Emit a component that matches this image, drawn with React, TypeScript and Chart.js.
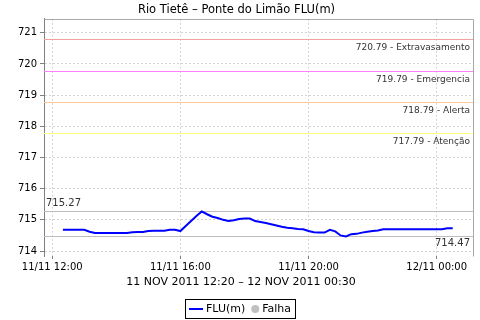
import React, { useEffect, useRef } from 'react';
import { Chart, registerables } from 'chart.js';

Chart.register(...registerables);

// Series: FLU(m) readings every 10 minutes starting 11/11 12:20 (minutes from 11/11 00:00)
const startMinute = 12 * 60 + 20;
const stepMinutes = 10;
const levels = [
  714.68, 714.68, 714.68, 714.68, 714.68, 714.62, 714.58, 714.58, 714.58, 714.58,
  714.58, 714.58, 714.58, 714.60, 714.61, 714.61, 714.64, 714.65, 714.65, 714.65,
  714.68, 714.68, 714.64, 714.80, 714.96, 715.12, 715.27, 715.18, 715.10, 715.06,
  715.00, 714.96, 714.99, 715.03, 715.04, 715.04, 714.96, 714.93, 714.90, 714.86,
  714.82, 714.78, 714.75, 714.73, 714.71, 714.70, 714.64, 714.60, 714.59, 714.59,
  714.68, 714.63, 714.50, 714.47, 714.54, 714.55, 714.59, 714.62, 714.64, 714.66,
  714.70, 714.70, 714.70, 714.70, 714.70, 714.70, 714.70, 714.70, 714.70, 714.70,
  714.70, 714.70, 714.73, 714.73,
];

const xTickMinutes = [720, 960, 1200, 1440];
const xTickLabels = ['11/11 12:00', '11/11 16:00', '11/11 20:00', '12/11 00:00'];
const yTickValues = [714, 715, 716, 717, 718, 719, 720, 721];

const thresholdValues = [720.79, 719.79, 718.79, 717.79];
const thresholdNames = ['Extravasamento', 'Emergencia', 'Alerta', 'Atenção'];
const thresholdColors = ['#f4a0a0', '#ff80ff', '#ffc896', '#ffff80'];

const maxLevel = 715.27;
const minLevel = 714.47;

const titleText = 'Rio Tietê – Ponte do Limão FLU(m)';
const xTitleText = '11 NOV 2011 12:20 – 12 NOV 2011 00:30';
const seriesName = 'FLU(m)';
const failName = 'Falha';

const FONT = '"DejaVu Sans", sans-serif';

const overlay = {
  id: 'overlay',
  beforeDatasetsDraw(chart: any) {
    const { ctx, chartArea: a, scales } = chart;
    const y = scales.y;
    ctx.save();
    ctx.lineWidth = 1;
    ctx.font = `9px ${FONT}`;
    ctx.textBaseline = 'middle';
    thresholdValues.forEach((v, i) => {
      const py = Math.round(y.getPixelForValue(v)) + 0.5;
      ctx.strokeStyle = thresholdColors[i];
      ctx.beginPath();
      ctx.moveTo(a.left, py);
      ctx.lineTo(a.right, py);
      ctx.stroke();
      ctx.fillStyle = '#333';
      ctx.textAlign = 'right';
      ctx.fillText(`${v.toFixed(2)} - ${thresholdNames[i]}`, a.right - 3, py + 8);
    });
    // max / min reference lines
    ctx.strokeStyle = '#bdbdbd';
    ctx.font = `10px ${FONT}`;
    const pMax = Math.round(y.getPixelForValue(maxLevel)) + 0.5;
    const pMin = Math.round(y.getPixelForValue(minLevel)) + 0.5;
    [pMax, pMin].forEach((py) => {
      ctx.beginPath();
      ctx.moveTo(a.left, py);
      ctx.lineTo(a.right, py);
      ctx.stroke();
    });
    ctx.fillStyle = '#333';
    ctx.textAlign = 'left';
    ctx.fillText(maxLevel.toFixed(2), a.left + 2, pMax - 8);
    ctx.textAlign = 'right';
    ctx.fillText(minLevel.toFixed(2), a.right - 3, pMin + 7);
    ctx.restore();
  },
  afterDraw(chart: any) {
    const { ctx, chartArea: a } = chart;
    ctx.save();
    ctx.lineWidth = 1;
    ctx.strokeStyle = '#a8a8a8';
    ctx.beginPath();
    ctx.moveTo(Math.round(a.left) + 0.5, Math.round(a.top) + 0.5);
    ctx.lineTo(Math.round(a.right) + 0.5, Math.round(a.top) + 0.5);
    ctx.lineTo(Math.round(a.right) + 0.5, Math.round(a.bottom) + 0.5);
    ctx.stroke();

    // domain axis label, centred on the canvas
    ctx.font = `11px ${FONT}`;
    ctx.fillStyle = '#000';
    ctx.textAlign = 'center';
    ctx.textBaseline = 'middle';
    ctx.fillText(xTitleText, chart.width / 2 + 1, 282);

    // legend: blue line for the series, grey dot for failures, inside a black frame
    ctx.textBaseline = 'middle';
    ctx.textAlign = 'left';
    const lineW = 14;
    const gap = 3;
    const dotR = 4;
    const w1 = ctx.measureText(seriesName).width;
    const w2 = ctx.measureText(failName).width;
    const inner = lineW + gap + w1 + 6 + dotR * 2 + gap + w2;
    const padX = 4;
    const boxW = inner + padX * 2;
    const boxL = Math.round(chart.width / 2 - boxW / 2);
    const boxT = 299;
    const boxH = 19;
    const cy = boxT + boxH / 2;
    ctx.strokeStyle = '#000';
    ctx.strokeRect(boxL + 0.5, boxT + 0.5, Math.round(boxW), boxH);
    let x = boxL + padX;
    ctx.strokeStyle = '#0000ff';
    ctx.lineWidth = 2;
    ctx.beginPath();
    ctx.moveTo(x, Math.round(cy));
    ctx.lineTo(x + lineW, Math.round(cy));
    ctx.stroke();
    x += lineW + gap;
    ctx.fillStyle = '#000';
    ctx.fillText(seriesName, x, cy + 0.5);
    x += w1 + 6;
    ctx.fillStyle = '#c0c0c0';
    ctx.beginPath();
    ctx.arc(x + dotR, cy + 0.5, dotR, 0, Math.PI * 2);
    ctx.fill();
    x += dotR * 2 + gap;
    ctx.fillStyle = '#000';
    ctx.fillText(failName, x, cy + 0.5);
    ctx.restore();
  },
};

export default function App() {
  const ref = useRef<HTMLCanvasElement | null>(null);

  useEffect(() => {
    document.body.style.margin = '0';
    const canvas = ref.current;
    if (!canvas) return;
    const points = levels.map((v, i) => ({ x: startMinute + i * stepMinutes, y: v }));
    const chart = new Chart(canvas, {
      type: 'line',
      data: {
        datasets: [
          {
            label: seriesName,
            data: points,
            borderColor: '#0000ff',
            backgroundColor: '#0000ff',
            borderWidth: 2,
            pointRadius: 0,
            tension: 0,
            fill: false,
          },
          {
            label: failName,
            data: [],
            borderColor: '#c0c0c0',
            backgroundColor: '#c0c0c0',
            pointStyle: 'circle',
            pointRadius: 4,
            showLine: false,
          },
        ],
      },
      options: {
        animation: false,
        responsive: false,
        devicePixelRatio: 1,
        layout: { padding: { left: 0, right: 7, top: 0, bottom: 0 } },
        plugins: {
          title: {
            display: true,
            text: titleText,
            color: '#000',
            font: { family: FONT, size: 11.5, weight: 'normal' },
            padding: { top: 3, bottom: 2 },
          },
          legend: { display: false },
          tooltip: { enabled: false },
        },
        scales: {
          x: {
            type: 'linear',
            min: 704.6,
            max: 1508,
            afterBuildTicks: (s: any) => {
              s.ticks = xTickMinutes.map((v) => ({ value: v }));
            },
            afterFit: (s: any) => {
              s.height = 64;
            },
            ticks: {
              autoSkip: false,
              maxRotation: 0,
              color: '#000',
              font: { family: FONT, size: 10 },
              padding: 2,
              callback: (v: any) => {
                const i = xTickMinutes.indexOf(Number(v));
                return i >= 0 ? xTickLabels[i] : '';
              },
            },
            grid: {
              color: '#d4d4d4',
              tickColor: '#808080',
              tickLength: 3,
              tickBorderDash: [],
            },
            border: { display: false, dash: [2, 2] },
          },
          y: {
            type: 'linear',
            min: 713.84,
            max: 721.45,
            afterBuildTicks: (s: any) => {
              s.ticks = yTickValues.map((v) => ({ value: v }));
            },
            afterFit: (s: any) => {
              s.width = 44;
            },
            ticks: {
              color: '#000',
              font: { family: FONT, size: 10 },
              padding: 3,
              callback: (v: any) => String(v),
            },
            grid: {
              color: '#d4d4d4',
              tickColor: '#808080',
              tickLength: 4,
              tickBorderDash: [],
            },
            border: { display: true, color: '#808080', width: 1, dash: [2, 2] },
          },
        },
      },
      plugins: [overlay],
    });
    return () => chart.destroy();
  }, []);

  return (
    <div style={{ width: 480, height: 320 }}>
      <canvas ref={ref} width={480} height={320} style={{ display: 'block', width: 480, height: 320 }} />
    </div>
  );
}
